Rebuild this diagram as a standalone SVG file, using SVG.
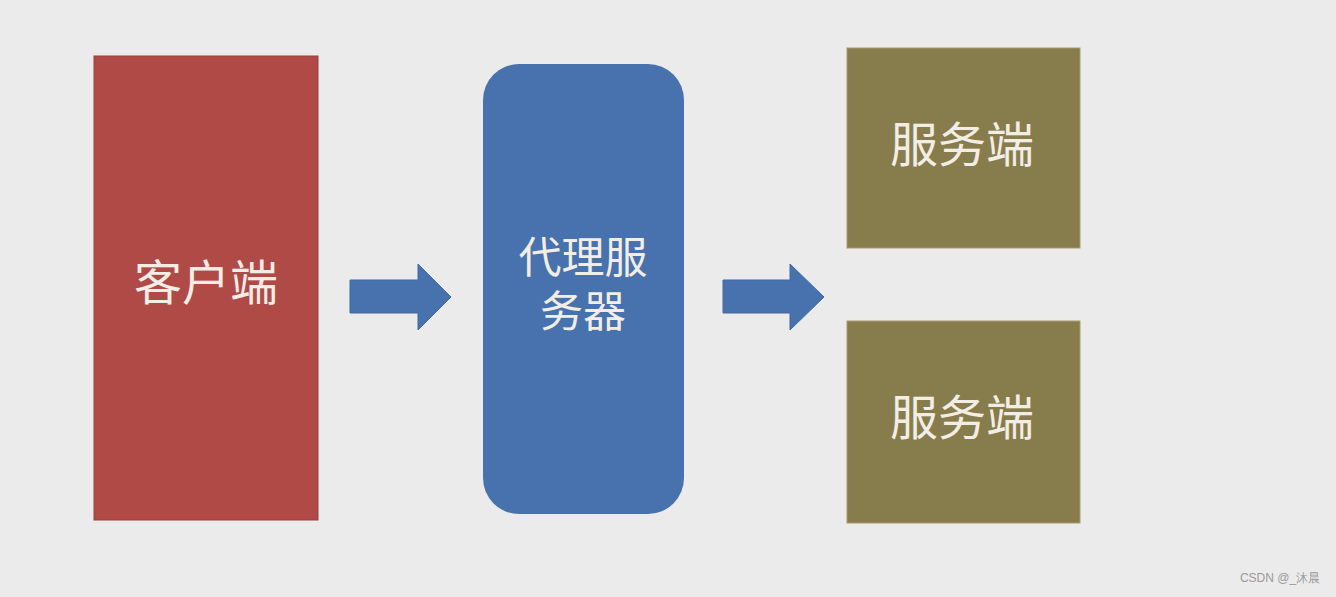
<svg xmlns="http://www.w3.org/2000/svg" width="1336" height="597" viewBox="0 0 1336 597">
<style>
.lbl{font-family:"Noto Sans CJK SC","Noto Sans",sans-serif;fill:#f2eee6;text-anchor:middle}
.big{font-size:48px}
.mid{font-size:43px}
.arrow{fill:#4872ae;stroke:#4069a3;stroke-width:1}
</style>
<rect width="1336" height="597" fill="#ebebeb"/>
<g id="client">
<rect x="94" y="56" width="224" height="464" fill="#b04a46" stroke="#9a3e3b" stroke-width="1"/>
<text class="lbl big" x="206" y="300">客户端</text>
</g>
<g id="proxy">
<rect x="483" y="64" width="201" height="450" rx="36" fill="#4872ae"/>
<text class="lbl mid" x="583" y="273">代理服</text>
<text class="lbl mid" x="583" y="327">务器</text>
</g>
<g id="server1">
<rect x="847" y="48" width="233" height="200" fill="#877c4b" stroke="#a89c70" stroke-width="1"/>
<text class="lbl big" x="962" y="162">服务端</text>
</g>
<g id="server2">
<rect x="847" y="321" width="233" height="202" fill="#877c4b" stroke="#a89c70" stroke-width="1"/>
<text class="lbl big" x="962" y="435">服务端</text>
</g>
<g id="connectors">
<polygon class="arrow" points="350,280 418,280 418,264 451,297 418,330 418,313 350,313"/>
<polygon class="arrow" points="723,280 790,280 790,264 824,297 790,330 790,313 723,313"/>
</g>
<text x="1280" y="582" font-family="Liberation Sans,sans-serif" font-size="12" fill="#9a9a9a" text-anchor="middle">CSDN @_沐晨</text>
</svg>
